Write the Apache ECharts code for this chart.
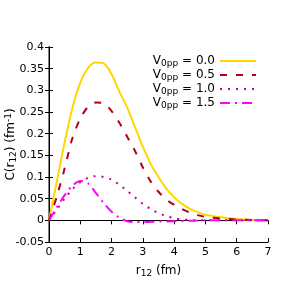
<!DOCTYPE html>
<html><head><meta charset="utf-8">
<script src="https://cdn.jsdelivr.net/npm/echarts@6/dist/echarts.min.js"></script>
<style>html,body{margin:0;padding:0;background:#fff}#c{width:289px;height:289px}</style>
</head><body><div id="c"></div>
<script>
const r12 = [0,0.25,0.5,0.75,1.0,1.25,1.5,1.75,2.0,2.25,2.5,2.75,3.0,3.25,3.5,3.75,4.0,4.25,4.5,4.75,5.0,5.5,6.0,6.5,7.0];
const c00 = [0,0.09,0.18,0.26,0.318,0.352,0.364,0.362,0.337,0.297,0.26,0.215,0.17,0.13,0.1,0.073,0.053,0.038,0.027,0.019,0.013,0.007,0.003,0.001,0];
const c05 = [0,0.055,0.12,0.19,0.235,0.262,0.272,0.27,0.252,0.225,0.193,0.16,0.122,0.09,0.066,0.048,0.036,0.026,0.018,0.012,0.008,0.004,0.002,0.001,0];
const c10 = [0,0.025,0.05,0.072,0.088,0.098,0.102,0.1,0.094,0.082,0.068,0.053,0.038,0.026,0.017,0.01,0.005,0.002,0.001,0,0,0,0,0,0];
const c15 = [0,0.03,0.058,0.08,0.091,0.085,0.063,0.04,0.02,0.006,-0.002,-0.004,-0.004,-0.0035,-0.003,-0.0025,-0.002,-0.0015,-0.001,-0.0005,0,0,0,0,0];
const labels = ['0.0','0.5','1.0','1.5'];
const colors = ['#ffd700','#b0001a','#c00090','#ff00ff'];
const dashes = ['solid',[7,9],[2,6],[10,5,2,5]];
const seriesData = [c00,c05,c10,c15];

const font = 'DejaVu Sans';
const chart = echarts.init(document.getElementById('c'));
const series = seriesData.map((ys,i)=>({
  name: labels[i], type:'line', smooth:0.3, symbol:'none', xAxisIndex:0, yAxisIndex:0,
  data: r12.map((x,j)=>[x,ys[j]]),
  lineStyle:{color:colors[i], width:2, type:dashes[i]},
  itemStyle:{color:colors[i]}
}));
chart.setOption({
  animation:false,
  textStyle:{fontFamily:font},
  grid:{left:49,right:21,top:47,bottom:47,containLabel:false,outerBoundsMode:'none'},
  legend:{
    orient:'vertical', right:27, top:50, align:'right', itemWidth:36, itemHeight:10, itemGap:1,
    itemStyle:{opacity:0},
    data:labels,
    formatter: n => '{v|V}{s|0pp}{t| = '+n+'}',
    textStyle:{fontFamily:font, color:'#000', rich:{
      v:{fontSize:12,fontFamily:font}, s:{fontSize:9,fontFamily:font,padding:[5,0,0,0]}, t:{fontSize:12,fontFamily:font}
    }}
  },
  xAxis:[{
    type:'value', min:0, max:7, interval:1,
    name:'{a|r}{s|12}{a| (fm)}', nameLocation:'middle', nameGap:22, nameMoveOverlap:false,
    nameTextStyle:{rich:{a:{fontSize:12,fontFamily:font,color:'#000'}, s:{fontSize:9,fontFamily:font,color:'#000',padding:[5,0,0,0]}}},
    axisLine:{onZero:false, lineStyle:{color:'#000',width:1}},
    axisTick:{inside:true,length:4,lineStyle:{color:'#000'}},
    axisLabel:{fontSize:11,color:'#000',fontFamily:font,margin:5},
    splitLine:{show:false}
  },{
    type:'value', min:0, max:7, interval:1, position:'top',
    axisLine:{show:true,lineStyle:{color:'#000',width:1}},
    axisTick:{inside:true,length:4,lineStyle:{color:'#000'}},
    axisLabel:{show:false}, splitLine:{show:false}
  }],
  yAxis:[{
    type:'value', min:-0.05, max:0.4, interval:0.05,
    name:'{a|C(r}{s|12}{a|) (fm}{p|-1}{a|)}', nameLocation:'middle', nameGap:31, nameRotate:90, nameMoveOverlap:false,
    nameTextStyle:{rich:{a:{fontSize:12,fontFamily:font,color:'#000'}, s:{fontSize:9,fontFamily:font,color:'#000',padding:[5,0,0,0]}, p:{fontSize:9,fontFamily:font,color:'#000',padding:[0,0,5,0]}}},
    axisLine:{onZero:false, lineStyle:{color:'#808080',width:2}},
    axisTick:{inside:true,length:4,lineStyle:{color:'#000'}},
    axisLabel:{fontSize:11,color:'#000',fontFamily:font,margin:5, formatter:v=>String(+v.toFixed(2))},
    splitLine:{show:false}
  },{
    type:'value', min:-0.05, max:0.4, interval:0.05, position:'right',
    axisLine:{show:true,lineStyle:{color:'#000',width:1}},
    axisTick:{inside:true,length:4,lineStyle:{color:'#000'}},
    axisLabel:{show:false}, splitLine:{show:false}
  }],
  series: series
});
</script></body></html>
